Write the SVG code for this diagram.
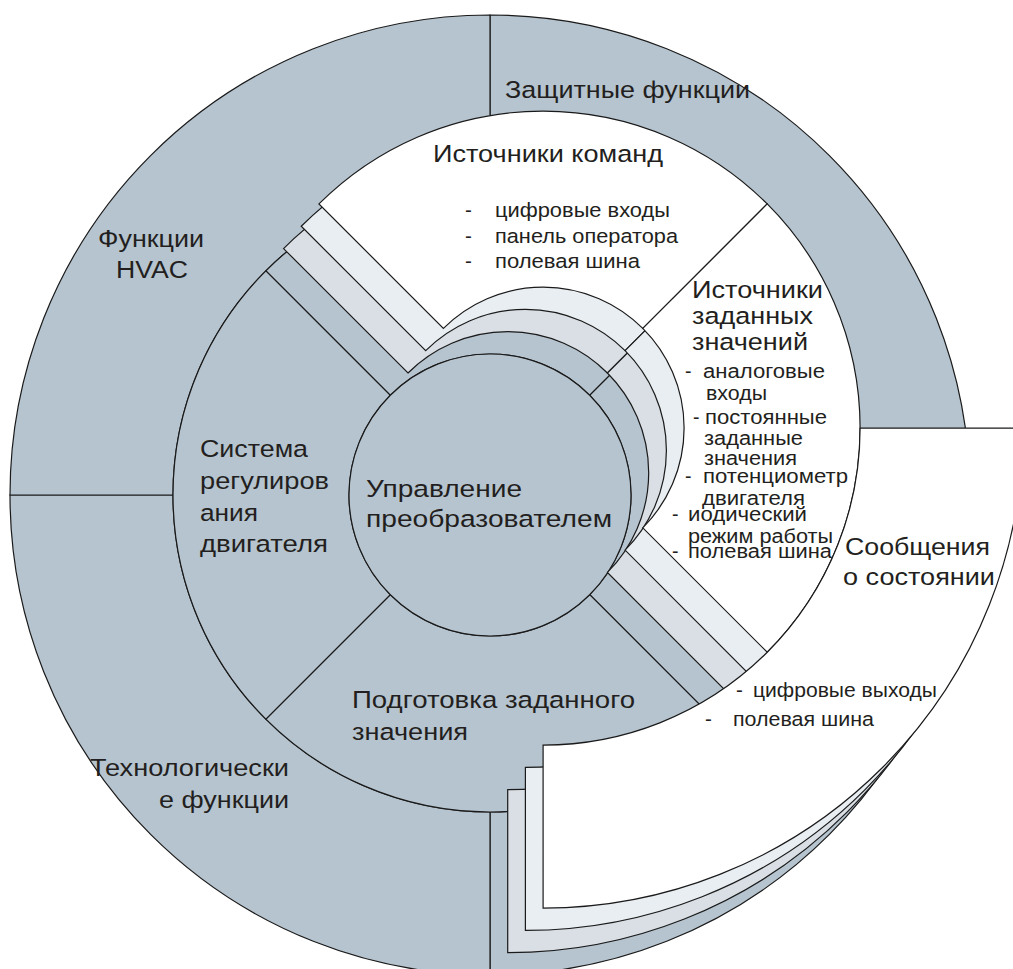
<svg xmlns="http://www.w3.org/2000/svg" width="1013" height="969" viewBox="0 0 1013 969">
<style>
.s{stroke:#1a1a1a;stroke-width:1.2;stroke-linejoin:miter}
.l0{fill:#b6c4cf}.l1{fill:#d9dfe4}.l2{fill:#e9eef2}.l3{fill:#ffffff}
text{font-family:"Liberation Sans",Arial,sans-serif;fill:#231f20}
.t{font-size:24.5px}.b{font-size:20.5px}.r{font-size:19.5px}
</style>
<rect width="1013" height="969" fill="#ffffff"/>
<!-- outer ring -->
<g id="protective-functions">
<path class="s l0" d="M490,15 A480,480 0 0 1 970,495 L807,495 A317,317 0 0 0 490,178 Z"/>
<text class="t" x="505" y="98" textLength="245" lengthAdjust="spacingAndGlyphs">Защитные функции</text>
</g>
<g id="status-messages-layer0"><path class="s l0" d="M970,495 A480,480 0 0 1 490,975 L490,812 A317,317 0 0 0 807,495 Z"/></g>
<g id="technology-functions">
<path class="s l0" d="M490,975 A480,480 0 0 1 10,495 L173,495 A317,317 0 0 0 490,812 Z"/>
<text class="t" x="90" y="776" textLength="199" lengthAdjust="spacingAndGlyphs">Технологически</text>
<text class="t" x="159" y="808" textLength="130" lengthAdjust="spacingAndGlyphs">е функции</text>
</g>
<g id="hvac-functions">
<path class="s l0" d="M10,495 A480,480 0 0 1 490,15 L490,178 A317,317 0 0 0 173,495 Z"/>
<text class="t" x="98" y="247" textLength="106" lengthAdjust="spacingAndGlyphs">Функции</text>
<text class="t" x="116" y="278" textLength="72" lengthAdjust="spacingAndGlyphs">HVAC</text>
</g>
<!-- middle ring base -->
<g id="command-sources-layer0"><path class="s l0" d="M265.85,270.85 A317,317 0 0 1 714.15,270.85 L589.7,395.3 A141,141 0 0 0 390.3,395.3 Z"/></g>
<g id="setpoint-sources-layer0"><path class="s l0" d="M714.15,270.85 A317,317 0 0 1 714.15,719.15 L589.7,594.7 A141,141 0 0 0 589.7,395.3 Z"/></g>
<g id="setpoint-preparation">
<path class="s l0" d="M714.15,719.15 A317,317 0 0 1 265.85,719.15 L390.3,594.7 A141,141 0 0 0 589.7,594.7 Z"/>
<text class="t" x="352" y="708" textLength="283" lengthAdjust="spacingAndGlyphs">Подготовка заданного</text>
<text class="t" x="352" y="740" textLength="116" lengthAdjust="spacingAndGlyphs">значения</text>
</g>
<g id="motor-control">
<path class="s l0" d="M265.85,719.15 A317,317 0 0 1 265.85,270.85 L390.3,395.3 A141,141 0 0 0 390.3,594.7 Z"/>
<text class="t" x="200" y="457" textLength="108" lengthAdjust="spacingAndGlyphs">Система</text>
<text class="t" x="200" y="489" textLength="129" lengthAdjust="spacingAndGlyphs">регулиров</text>
<text class="t" x="200" y="521" textLength="58" lengthAdjust="spacingAndGlyphs">ания</text>
<text class="t" x="200" y="552" textLength="128" lengthAdjust="spacingAndGlyphs">двигателя</text>
</g>
<g id="converter-control">
<circle class="s l0" cx="490" cy="495" r="141"/>
<text class="t" x="366" y="497" textLength="156" lengthAdjust="spacingAndGlyphs">Управление</text>
<text class="t" x="366" y="527" textLength="246" lengthAdjust="spacingAndGlyphs">преобразователем</text>
</g>
<!-- layer 1 -->
<g id="command-sources-layer1"><path class="s l1" d="M283.55,248.55 A317,317 0 0 1 731.85,248.55 L607.4,373 A141,141 0 0 0 408,373 Z"/></g>
<g id="setpoint-sources-layer1"><path class="s l1" d="M731.85,248.55 A317,317 0 0 1 731.85,696.85 L607.4,572.4 A141,141 0 0 0 607.4,373 Z"/></g>
<g id="status-messages-layer1"><path class="s l1" d="M987.7,472.7 A480,480 0 0 1 507.7,952.7 L507.7,789.7 A317,317 0 0 0 824.7,472.7 Z"/></g>
<!-- layer 2 -->
<g id="command-sources-layer2"><path class="s l2" d="M301.25,226.25 A317,317 0 0 1 749.55,226.25 L625.1,350.7 A141,141 0 0 0 425.7,350.7 Z"/></g>
<g id="setpoint-sources-layer2"><path class="s l2" d="M749.55,226.25 A317,317 0 0 1 749.55,674.55 L625.1,550.1 A141,141 0 0 0 625.1,350.7 Z"/></g>
<g id="status-messages-layer2"><path class="s l2" d="M1005.4,450.4 A480,480 0 0 1 525.4,930.4 L525.4,767.4 A317,317 0 0 0 842.4,450.4 Z"/></g>
<!-- layer 3 (front) -->
<g id="command-sources">
<path class="s l3" d="M318.95,203.95 A317,317 0 0 1 767.25,203.95 L642.8,328.4 A141,141 0 0 0 443.4,328.4 Z"/>
<text class="t" x="433" y="162" textLength="230" lengthAdjust="spacingAndGlyphs">Источники команд</text>
<text class="b" x="465" y="217">-</text><text class="b" x="495" y="217" textLength="175" lengthAdjust="spacingAndGlyphs">цифровые входы</text>
<text class="b" x="465" y="243">-</text><text class="b" x="495" y="243" textLength="183" lengthAdjust="spacingAndGlyphs">панель оператора</text>
<text class="b" x="465" y="268">-</text><text class="b" x="495" y="268" textLength="145" lengthAdjust="spacingAndGlyphs">полевая шина</text>
</g>
<g id="setpoint-sources">
<path class="s l3" d="M767.25,203.95 A317,317 0 0 1 767.25,652.25 L642.8,527.8 A141,141 0 0 0 642.8,328.4 Z"/>
<text class="t" x="692" y="298" textLength="131" lengthAdjust="spacingAndGlyphs">Источники</text>
<text class="t" x="692" y="324" textLength="121" lengthAdjust="spacingAndGlyphs">заданных</text>
<text class="t" x="692" y="350" textLength="116" lengthAdjust="spacingAndGlyphs">значений</text>
<text class="r" x="685" y="378">-</text><text class="r" x="703" y="378" textLength="122" lengthAdjust="spacingAndGlyphs">аналоговые</text>
<text class="r" x="706" y="400" textLength="61" lengthAdjust="spacingAndGlyphs">входы</text>
<text class="r" x="693" y="424">-</text><text class="r" x="705" y="424" textLength="122" lengthAdjust="spacingAndGlyphs">постоянные</text>
<text class="r" x="704" y="445" textLength="99" lengthAdjust="spacingAndGlyphs">заданные</text>
<text class="r" x="704" y="465" textLength="93" lengthAdjust="spacingAndGlyphs">значения</text>
<text class="r" x="685" y="483">-</text><text class="r" x="703" y="483" textLength="145" lengthAdjust="spacingAndGlyphs">потенциометр</text>
<text class="r" x="702" y="505" textLength="103" lengthAdjust="spacingAndGlyphs">двигателя</text>
<text class="r" x="672" y="521">-</text><text class="r" x="688" y="521" textLength="119" lengthAdjust="spacingAndGlyphs">иодический</text>
<text class="r" x="688" y="543" textLength="145" lengthAdjust="spacingAndGlyphs">режим работы</text>
<text class="r" x="672" y="558">-</text><text class="r" x="688" y="558" textLength="144" lengthAdjust="spacingAndGlyphs">полевая шина</text>
</g>
<g id="status-messages">
<path class="s l3" d="M1023.1,428.1 A480,480 0 0 1 543.1,908.1 L543.1,745.1 A317,317 0 0 0 860.1,428.1 Z"/>
<text class="t" x="845" y="555" textLength="145" lengthAdjust="spacingAndGlyphs">Сообщения</text>
<text class="t" x="843" y="585" textLength="152" lengthAdjust="spacingAndGlyphs">о состоянии</text>
<text class="b" x="736" y="697">-</text><text class="b" x="753" y="697" textLength="184" lengthAdjust="spacingAndGlyphs">цифровые выходы</text>
<text class="b" x="705" y="726">-</text><text class="b" x="733" y="726" textLength="141" lengthAdjust="spacingAndGlyphs">полевая шина</text>
</g>
<g id="connectors"/>
</svg>
